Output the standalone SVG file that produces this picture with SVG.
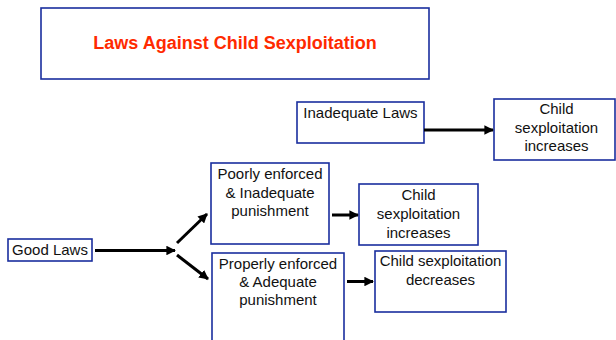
<svg xmlns="http://www.w3.org/2000/svg" width="616" height="340" viewBox="0 0 616 340">
<style>
.box{fill:#fff;stroke:#1a2e9e;stroke-width:1.6}
.t{font-family:"Liberation Sans",Arial,sans-serif;font-size:15px;fill:#111;text-anchor:middle}
.title{font-family:"Liberation Sans",Arial,sans-serif;font-size:18px;font-weight:bold;fill:#ff2a00;text-anchor:middle}
.c{stroke:#000;stroke-width:3;fill:none;marker-end:url(#ah)}
</style>
<defs>
<marker id="ah" viewBox="0 0 10 10" refX="9" refY="5" markerWidth="3.2" markerHeight="3.2" orient="auto" markerUnits="strokeWidth">
<path d="M0,0 L10,5 L0,10 z" fill="#000"/>
</marker>
</defs>
<rect width="616" height="340" fill="#fff"/>
<g id="title"><rect class="box" x="41" y="8" width="388" height="71"/><text class="title" x="235" y="49">Laws Against Child Sexploitation</text></g>
<g id="inadequate"><rect class="box" x="297" y="102" width="127" height="41"/><text class="t" x="360.5" y="118">Inadequate Laws</text></g>
<g id="child1"><rect class="box" x="494" y="99" width="121" height="61"/><text class="t" x="556.5" y="114">Child</text><text class="t" x="556.5" y="133">sexploitation</text><text class="t" x="556.5" y="151">increases</text></g>
<g id="goodlaws"><rect class="box" x="8" y="239" width="84" height="22"/><text class="t" x="50" y="254.5">Good Laws</text></g>
<g id="poorly"><rect class="box" x="211" y="163" width="118" height="81"/><text class="t" x="270" y="179">Poorly enforced</text><text class="t" x="270" y="197.5">&amp; Inadequate</text><text class="t" x="270" y="216">punishment</text></g>
<g id="properly"><rect class="box" x="212" y="253" width="132" height="92"/><text class="t" x="278" y="268.5">Properly enforced</text><text class="t" x="278" y="287">&amp; Adequate</text><text class="t" x="278" y="305">punishment</text></g>
<g id="child2"><rect class="box" x="359" y="184" width="119" height="61"/><text class="t" x="418.5" y="200">Child</text><text class="t" x="418.5" y="219">sexploitation</text><text class="t" x="418.5" y="237.5">increases</text></g>
<g id="child3"><rect class="box" x="375" y="251" width="131" height="61"/><text class="t" x="440.5" y="266">Child sexploitation</text><text class="t" x="440.5" y="285">decreases</text></g>
<g id="connectors">
<line class="c" x1="424" y1="130" x2="493" y2="130"/>
<line class="c" x1="95" y1="250.5" x2="175" y2="250.5"/>
<line class="c" x1="177" y1="243" x2="207" y2="214"/>
<line class="c" x1="177" y1="255" x2="208" y2="279"/>
<line class="c" x1="332" y1="215" x2="358" y2="215"/>
<line class="c" x1="347" y1="281.5" x2="373" y2="281.5"/>
</g>
</svg>
